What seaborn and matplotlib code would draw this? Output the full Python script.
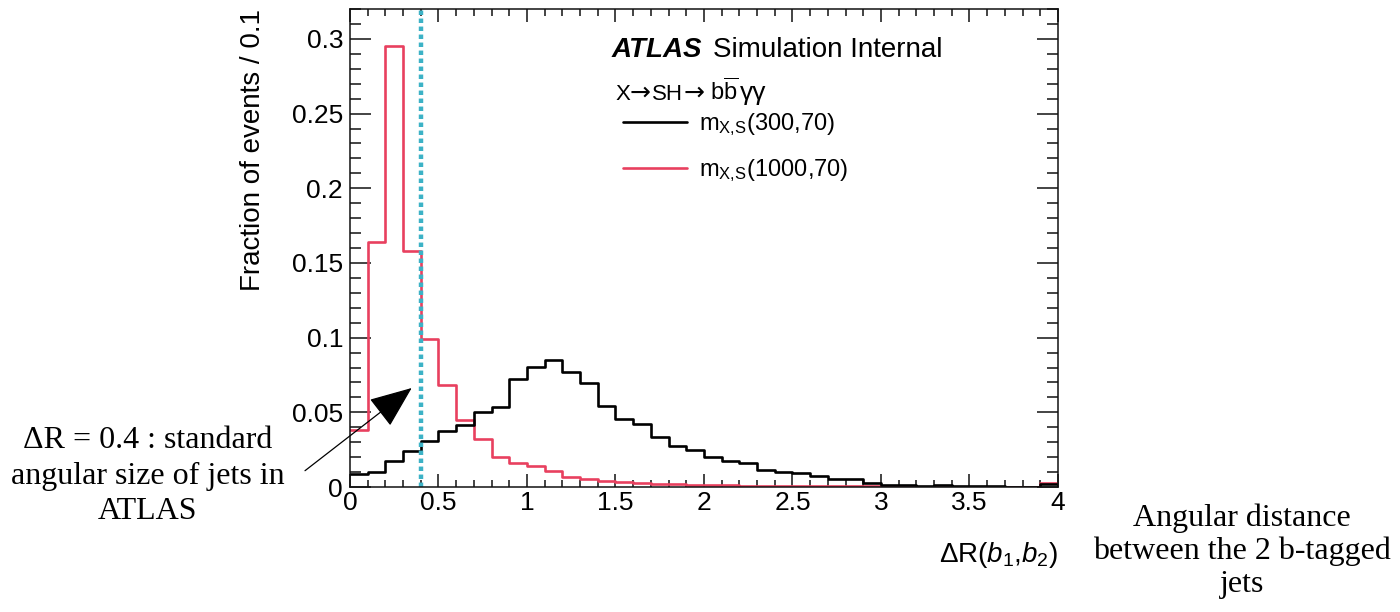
import numpy as np
import pandas as pd
import matplotlib
matplotlib.use('Agg')
import matplotlib.pyplot as plt
from matplotlib.lines import Line2D
from matplotlib.ticker import MultipleLocator
import seaborn as sns

# bin edges of the dR(b1,b2) histogram, 0.1 wide
edges = np.round(np.arange(0, 4.01, 0.1), 2)
centers = (edges[:-1] + edges[1:]) / 2

frac_300_70 = [0.0087, 0.0103, 0.0172, 0.0241, 0.0310, 0.0375, 0.0418, 0.0500, 0.0538, 0.0720,
               0.0806, 0.0851, 0.0769, 0.0695, 0.0540, 0.0457, 0.0420, 0.0335, 0.0275, 0.0248,
               0.0201, 0.0176, 0.0163, 0.0114, 0.0103, 0.0096, 0.0076, 0.0056, 0.0054, 0.0025,
               0.0013, 0.0011, 0.0009, 0.0013, 0.0006, 0.0005, 0.0004, 0.0003, 0.0003, 0.0018]
frac_1000_70 = [0.0380, 0.1640, 0.2950, 0.1580, 0.0990, 0.0680, 0.0452, 0.0324, 0.0203, 0.0163,
                0.0140, 0.0110, 0.0068, 0.0057, 0.0042, 0.0032, 0.0026, 0.0021, 0.0017, 0.0014,
                0.0012, 0.0011, 0.0010, 0.0009, 0.0008, 0.0007, 0.0006, 0.0006, 0.0005, 0.0005,
                0.0004, 0.0004, 0.0003, 0.0003, 0.0003, 0.0003, 0.0002, 0.0002, 0.0002, 0.0025]

labels = [r'm$_{\mathregular{X,\!S}}$(300,70)', r'm$_{\mathregular{X,\!S}}$(1000,70)']
colors = ['black', '#e8405f']
jet_radius = 0.4

df = pd.DataFrame({
    'dR': np.concatenate([centers, centers]),
    'frac': frac_300_70 + frac_1000_70,
    'sample': [labels[0]] * len(centers) + [labels[1]] * len(centers),
})

sns.set_style('ticks')
plt.rcParams['font.family'] = ['Liberation Sans', 'DejaVu Sans']
plt.rcParams['mathtext.fontset'] = 'custom'
plt.rcParams['mathtext.rm'] = 'Liberation Sans'
plt.rcParams['mathtext.it'] = 'Liberation Sans:italic'
plt.rcParams['mathtext.bf'] = 'Liberation Sans:bold'
plt.rcParams['text.color'] = 'black'
plt.rcParams['axes.labelcolor'] = 'black'

fig = plt.figure(figsize=(14, 6.12), dpi=100)
ax = fig.add_axes([0.25, 0.2042, 0.5057, 0.7811])

sns.histplot(data=df, x='dR', weights='frac', hue='sample', bins=edges.tolist(),
             element='step', fill=False, palette=colors, linewidth=1.9,
             legend=False, ax=ax)

ax.axvline(jet_radius, color='#3cb2c6', linewidth=3.2, linestyle=(0, (1, 0.8)))

ax.set_xlim(0, 4)
ax.set_ylim(0, 0.32)
ax.xaxis.set_major_locator(MultipleLocator(0.5))
ax.xaxis.set_minor_locator(MultipleLocator(0.1))
ax.yaxis.set_major_locator(MultipleLocator(0.05))
ax.yaxis.set_minor_locator(MultipleLocator(0.01))
ax.set_xticks(np.arange(0, 4.01, 0.5), ['0', '0.5', '1', '1.5', '2', '2.5', '3', '3.5', '4'])
ax.set_yticks(np.arange(0, 0.31, 0.05), ['0', '0.05', '0.1', '0.15', '0.2', '0.25', '0.3'])
ax.tick_params(which='both', direction='in', top=True, right=True, labelsize=19,
               color='#111111', labelcolor='black')
ax.tick_params(axis='y', which='major', length=15, width=1.1, pad=5)
ax.tick_params(axis='y', which='minor', length=8, width=1.1)
ax.tick_params(axis='x', which='major', length=9.5, width=1.1, pad=3)
ax.tick_params(axis='x', which='minor', length=5, width=1.1)
for spine in ax.spines.values():
    spine.set_visible(True)
    spine.set_linewidth(1.1)
    spine.set_color('#111111')

ax.set_ylabel('Fraction of events / 0.1', fontsize=20, loc='top')
ax.yaxis.set_label_coords(-0.118, 1.0)
ax.set_xlabel(r'$\Delta$R($\mathit{b}_{1}$,$\mathit{b}_{2}$)', fontsize=20, loc='right')
ax.xaxis.set_label_coords(1.0, -0.11)

# ATLAS label block
fig.text(612 / 1400, 1 - 57 / 612, 'ATLAS', fontsize=20, fontweight='bold', style='italic',
         va='baseline')
fig.text(713 / 1400, 1 - 57 / 612, 'Simulation Internal', fontsize=20, va='baseline')

# X -> SH -> bb~yy, arrows taken from DejaVu Sans (Liberation's arrow is tiny)
proc_base = 1 - 100 / 612
fig.text(616 / 1400, proc_base, 'X', fontsize=16, va='baseline')
fig.text(630 / 1400, proc_base, '→', fontsize=18, family='DejaVu Sans', va='baseline')
fig.text(652 / 1400, proc_base, 'SH', fontsize=16, va='baseline')
fig.text(684 / 1400, proc_base, '→', fontsize=18, family='DejaVu Sans', va='baseline')
fig.text(710 / 1400, proc_base, r'b$\overline{\mathregular{b}}$', fontsize=17, va='baseline')
fig.text(740 / 1400, proc_base, 'γγ', fontsize=19, va='baseline')

handles = [Line2D([0], [0], color=c, linewidth=1.9) for c in colors]
fig.legend(handles, labels, loc='upper left', bbox_to_anchor=(602 / 1400, 1 - 90 / 612),
           frameon=False, fontsize=17, handlelength=2.7, handletextpad=0.5, labelspacing=0.82)

fig.text(148 / 1400, 1 - 476 / 612, 'ΔR = 0.4 : standard\nangular size of jets in\nATLAS',
         family='Liberation Serif', fontsize=23, ha='center', va='center', linespacing=1.3)
fig.text(1242 / 1400, 1 - 551 / 612, 'Angular distance\nbetween the 2 b-tagged\njets',
         family='Liberation Serif', fontsize=23, ha='center', va='center', linespacing=1.16)

ax.annotate('', xy=(411.7 / 1400, 1 - 388 / 612), xycoords='figure fraction',
            xytext=(305 / 1400, 1 - 470.7 / 612), textcoords='figure fraction',
            arrowprops=dict(arrowstyle='-|>,head_length=1.35,head_width=0.55', mutation_scale=20,
                            color='black', linewidth=0.9, shrinkA=0, shrinkB=0))

fig.savefig('out.png', dpi=100)
